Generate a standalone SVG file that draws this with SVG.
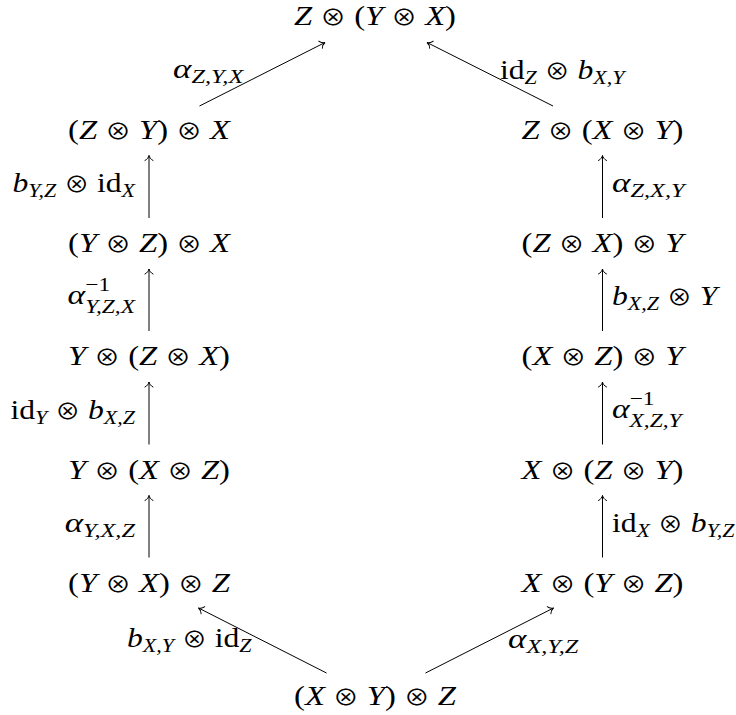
<svg xmlns="http://www.w3.org/2000/svg" width="736" height="715" viewBox="0 0 736 715">
<style>
text{font-family:"Liberation Serif","Times New Roman",serif;font-size:28px;fill:#000}
.n{text-anchor:middle}
.i{font-style:italic}
.o{font-family:"Noto Sans CJK JP","DejaVu Sans",sans-serif;font-size:22px;font-style:normal}
.s{font-size:19.5px}
.c line{stroke:#000;stroke-width:1;fill:none;marker-end:url(#ah)}
</style>
<defs>
<marker id="ah" markerUnits="userSpaceOnUse" orient="auto" viewBox="-7 -6 9 12" refX="0" refY="0" markerWidth="9" markerHeight="12" overflow="visible">
<path d="M-5,-4 C-4,-1.7 -1.6,-0.4 0,0 C-1.6,0.4 -4,1.7 -5,4" fill="none" stroke="#000" stroke-width="1" stroke-linecap="round"/>
</marker>
</defs>
<rect width="736" height="715" fill="#fff"/>

<g class="c" id="connectors">
<line x1="149" y1="218" x2="149" y2="155.5"/>
<line x1="149" y1="331" x2="149" y2="269"/>
<line x1="149" y1="444.5" x2="149" y2="382"/>
<line x1="149" y1="557.5" x2="149" y2="495.5"/>
<line x1="602.5" y1="218" x2="602.5" y2="155.5"/>
<line x1="602.5" y1="331" x2="602.5" y2="269"/>
<line x1="602.5" y1="444.5" x2="602.5" y2="382"/>
<line x1="602.5" y1="557.5" x2="602.5" y2="495.5"/>
<line x1="199.5" y1="106" x2="325" y2="42.5"/>
<line x1="553" y1="106" x2="427" y2="42.5"/>
<line x1="326.5" y1="673" x2="198.5" y2="608"/>
<line x1="425.5" y1="673" x2="553.5" y2="608"/>
</g>

<g id="n-top" transform="translate(375,25) scale(1.166,1)"><text class="n"><tspan class="i">Z</tspan> <tspan class="o">⊗</tspan> (<tspan class="i">Y</tspan> <tspan class="o">⊗</tspan> <tspan class="i">X</tspan>)</text></g>
<g id="n-L1" transform="translate(149,138.75) scale(1.166,1)"><text class="n">(<tspan class="i">Z</tspan> <tspan class="o">⊗</tspan> <tspan class="i">Y</tspan>) <tspan class="o">⊗</tspan> <tspan class="i">X</tspan></text></g>
<g id="n-L2" transform="translate(149,252) scale(1.166,1)"><text class="n">(<tspan class="i">Y</tspan> <tspan class="o">⊗</tspan> <tspan class="i">Z</tspan>) <tspan class="o">⊗</tspan> <tspan class="i">X</tspan></text></g>
<g id="n-L3" transform="translate(149,365.25) scale(1.166,1)"><text class="n"><tspan class="i">Y</tspan> <tspan class="o">⊗</tspan> (<tspan class="i">Z</tspan> <tspan class="o">⊗</tspan> <tspan class="i">X</tspan>)</text></g>
<g id="n-L4" transform="translate(149,478.5) scale(1.166,1)"><text class="n"><tspan class="i">Y</tspan> <tspan class="o">⊗</tspan> (<tspan class="i">X</tspan> <tspan class="o">⊗</tspan> <tspan class="i">Z</tspan>)</text></g>
<g id="n-L5" transform="translate(149,591.75) scale(1.166,1)"><text class="n">(<tspan class="i">Y</tspan> <tspan class="o">⊗</tspan> <tspan class="i">X</tspan>) <tspan class="o">⊗</tspan> <tspan class="i">Z</tspan></text></g>
<g id="n-R1" transform="translate(602.5,138.75) scale(1.166,1)"><text class="n"><tspan class="i">Z</tspan> <tspan class="o">⊗</tspan> (<tspan class="i">X</tspan> <tspan class="o">⊗</tspan> <tspan class="i">Y</tspan>)</text></g>
<g id="n-R2" transform="translate(602.5,252) scale(1.166,1)"><text class="n">(<tspan class="i">Z</tspan> <tspan class="o">⊗</tspan> <tspan class="i">X</tspan>) <tspan class="o">⊗</tspan> <tspan class="i">Y</tspan></text></g>
<g id="n-R3" transform="translate(602.5,365.25) scale(1.166,1)"><text class="n">(<tspan class="i">X</tspan> <tspan class="o">⊗</tspan> <tspan class="i">Z</tspan>) <tspan class="o">⊗</tspan> <tspan class="i">Y</tspan></text></g>
<g id="n-R4" transform="translate(602.5,478.5) scale(1.166,1)"><text class="n"><tspan class="i">X</tspan> <tspan class="o">⊗</tspan> (<tspan class="i">Z</tspan> <tspan class="o">⊗</tspan> <tspan class="i">Y</tspan>)</text></g>
<g id="n-R5" transform="translate(602.5,591.75) scale(1.166,1)"><text class="n"><tspan class="i">X</tspan> <tspan class="o">⊗</tspan> (<tspan class="i">Y</tspan> <tspan class="o">⊗</tspan> <tspan class="i">Z</tspan>)</text></g>
<g id="n-bottom" transform="translate(375,705) scale(1.166,1)"><text class="n">(<tspan class="i">X</tspan> <tspan class="o">⊗</tspan> <tspan class="i">Y</tspan>) <tspan class="o">⊗</tspan> <tspan class="i">Z</tspan></text></g>

<g id="labels">
<g transform="translate(173,78) scale(1.25,1)"><text><tspan class="i">α</tspan><tspan class="i s" dy="5">Z,Y,X</tspan></text></g>
<g transform="translate(500,79) scale(1.13,1)"><text>id<tspan class="i s" dy="5">Z</tspan><tspan dy="-5"> </tspan><tspan class="o">⊗</tspan> <tspan class="i">b</tspan><tspan class="i s" dy="5">X,Y</tspan></text></g>

<g transform="translate(135,192) scale(1.13,1)"><text text-anchor="end"><tspan class="i">b</tspan><tspan class="i s" dy="5">Y,Z</tspan><tspan dy="-5"> </tspan><tspan class="o">⊗</tspan> id<tspan class="i s" dy="5">X</tspan></text></g>
<g transform="translate(135,304) scale(1.2,1)"><text text-anchor="end"><tspan class="i">α</tspan><tspan class="s" dy="-13">−1</tspan><tspan class="i s" dx="-20.8" dy="22">Y,Z,X</tspan></text></g>
<g transform="translate(135,419) scale(1.13,1)"><text text-anchor="end">id<tspan class="i s" dy="5">Y</tspan><tspan dy="-5"> </tspan><tspan class="o">⊗</tspan> <tspan class="i">b</tspan><tspan class="i s" dy="5">X,Z</tspan></text></g>
<g transform="translate(135,532) scale(1.25,1)"><text text-anchor="end"><tspan class="i">α</tspan><tspan class="i s" dy="5">Y,X,Z</tspan></text></g>

<g transform="translate(612,192) scale(1.25,1)"><text><tspan class="i">α</tspan><tspan class="i s" dy="5">Z,X,Y</tspan></text></g>
<g transform="translate(612,305) scale(1.13,1)"><text><tspan class="i">b</tspan><tspan class="i s" dy="5">X,Z</tspan><tspan dy="-5"> </tspan><tspan class="o">⊗</tspan> <tspan class="i">Y</tspan></text></g>
<g transform="translate(612,418) scale(1.2,1)"><text><tspan class="i">α</tspan><tspan class="s" dy="-13">−1</tspan><tspan class="i s" dx="-20.8" dy="22">X,Z,Y</tspan></text></g>
<g transform="translate(612,532) scale(1.13,1)"><text>id<tspan class="i s" dy="5">X</tspan><tspan dy="-5"> </tspan><tspan class="o">⊗</tspan> <tspan class="i">b</tspan><tspan class="i s" dy="5">Y,Z</tspan></text></g>

<g transform="translate(127,647) scale(1.13,1)"><text><tspan class="i">b</tspan><tspan class="i s" dy="5">X,Y</tspan><tspan dy="-5"> </tspan><tspan class="o">⊗</tspan> id<tspan class="i s" dy="5">Z</tspan></text></g>
<g transform="translate(508,648) scale(1.25,1)"><text><tspan class="i">α</tspan><tspan class="i s" dy="5">X,Y,Z</tspan></text></g>
</g>
</svg>
